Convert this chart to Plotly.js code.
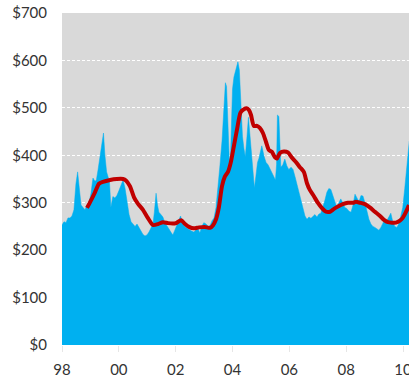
<!DOCTYPE html>
<html>
<head>
<meta charset="utf-8">
<script src="https://cdn.plot.ly/plotly-3.0.1.min.js"></script>
<style>
  html, body { margin: 0; padding: 0; background: #ffffff; }
  #chart { width: 409px; height: 382px; }
</style>
</head>
<body>
<div id="chart"></div>
<script>
// Price series (decimal years) and its values in dollars
const priceDates = [
  1998.00, 1998.07, 1998.14, 1998.21, 1998.28, 1998.35, 1998.42, 1998.49, 1998.55, 1998.60,
  1998.67, 1998.74, 1998.81, 1998.88, 1998.95, 1999.02, 1999.09, 1999.16, 1999.21, 1999.27,
  1999.34, 1999.41, 1999.46, 1999.51, 1999.57, 1999.62, 1999.67, 1999.72, 1999.79, 1999.86,
  1999.93, 2000.00, 2000.08, 2000.15, 2000.22, 2000.29, 2000.36, 2000.43, 2000.50, 2000.57,
  2000.64, 2000.71, 2000.78, 2000.85, 2000.92, 2000.99, 2001.06, 2001.13, 2001.20, 2001.25,
  2001.31, 2001.36, 2001.41, 2001.48, 2001.55, 2001.62, 2001.69, 2001.76, 2001.83, 2001.90,
  2001.97, 2002.04, 2002.12, 2002.17, 2002.22, 2002.29, 2002.36, 2002.43, 2002.50, 2002.57,
  2002.64, 2002.71, 2002.78, 2002.85, 2002.92, 2002.99, 2003.07, 2003.14, 2003.21, 2003.28,
  2003.35, 2003.42, 2003.49, 2003.56, 2003.63, 2003.68, 2003.72, 2003.75, 2003.79, 2003.82,
  2003.86, 2003.89, 2003.93, 2003.96, 2004.00, 2004.05, 2004.12, 2004.19, 2004.24, 2004.28,
  2004.31, 2004.35, 2004.40, 2004.45, 2004.51, 2004.56, 2004.61, 2004.68, 2004.74, 2004.77,
  2004.82, 2004.88, 2004.93, 2004.98, 2005.03, 2005.11, 2005.18, 2005.25, 2005.32, 2005.39,
  2005.46, 2005.51, 2005.55, 2005.58, 2005.63, 2005.67, 2005.70, 2005.77, 2005.84, 2005.91,
  2005.98, 2006.06, 2006.13, 2006.20, 2006.27, 2006.34, 2006.41, 2006.48, 2006.55, 2006.62,
  2006.69, 2006.76, 2006.83, 2006.90, 2006.97, 2007.04, 2007.11, 2007.18, 2007.25, 2007.32,
  2007.39, 2007.46, 2007.53, 2007.60, 2007.67, 2007.74, 2007.81, 2007.88, 2007.95, 2008.02,
  2008.10, 2008.17, 2008.24, 2008.31, 2008.38, 2008.45, 2008.52, 2008.59, 2008.66, 2008.73,
  2008.80, 2008.87, 2008.94, 2009.01, 2009.08, 2009.15, 2009.22, 2009.29, 2009.36, 2009.43,
  2009.50, 2009.57, 2009.64, 2009.71, 2009.78, 2009.85, 2009.92, 2009.99, 2010.06, 2010.12,
  2010.17, 2010.22
];
const priceValues = [
  253, 260, 258, 268, 268, 272, 285, 340, 365, 330,
  295, 290, 285, 295, 300, 320, 352, 345, 348, 370,
  400, 430, 447, 400, 365, 355, 345, 290, 313, 310,
  315, 325, 340, 348, 330, 305, 275, 260, 255, 250,
  255, 248, 240, 233, 230, 232, 238, 245, 255, 280,
  320, 295, 280, 275, 270, 258, 250, 245, 238, 232,
  242, 252, 262, 272, 262, 252, 248, 245, 242, 240,
  238, 242, 246, 236, 250, 258, 255, 250, 252, 262,
  268, 290, 330, 380, 430, 490, 540, 553, 545, 500,
  430, 385, 400, 480, 540, 565, 580, 597, 580, 530,
  470, 440, 415, 397, 440, 480, 445, 400, 350, 331,
  355, 385, 394, 405, 420, 398, 385, 380, 372, 362,
  355, 348, 380, 485, 482, 410, 375, 380, 392, 378,
  370, 375, 370, 355, 338, 318, 300, 285, 272, 265,
  270, 267, 272, 275, 270, 276, 278, 290, 305, 322,
  330, 328, 315, 300, 290, 300, 308, 300, 290, 288,
  282, 280, 295, 318, 310, 302, 315, 314, 300, 282,
  265, 255, 250, 248, 245, 242, 248, 258, 265, 262,
  270, 278, 260, 250, 248, 255, 272, 290, 330, 370,
  405, 430
];

// Moving average of the price
const avgDates = [
  1998.88, 1999.02, 1999.16, 1999.30, 1999.44, 1999.69, 1999.93, 2000.15, 2000.25, 2000.39,
  2000.53, 2000.67, 2000.85, 2001.02, 2001.20, 2001.38, 2001.55, 2001.73, 2001.90, 2002.01,
  2002.19, 2002.33, 2002.47, 2002.64, 2002.82, 2003.02, 2003.21, 2003.31, 2003.42, 2003.52,
  2003.63, 2003.73, 2003.84, 2003.94, 2004.05, 2004.16, 2004.28, 2004.40, 2004.51, 2004.58,
  2004.65, 2004.75, 2004.86, 2004.96, 2005.07, 2005.18, 2005.28, 2005.39, 2005.49, 2005.56,
  2005.67, 2005.81, 2005.95, 2006.09, 2006.23, 2006.37, 2006.51, 2006.62, 2006.72, 2006.86,
  2007.00, 2007.14, 2007.29, 2007.43, 2007.57, 2007.71, 2007.88, 2008.06, 2008.24, 2008.34,
  2008.48, 2008.66, 2008.83, 2009.01, 2009.19, 2009.33, 2009.47, 2009.61, 2009.75, 2009.89,
  2009.99, 2010.10, 2010.21
];
const avgValues = [
  289, 305, 322, 340, 344, 348, 350, 350, 347, 335,
  312, 298, 285, 268, 253, 255, 259, 257, 256, 257,
  263, 255, 249, 246, 248, 249, 247, 252, 265, 290,
  335, 355, 365, 385, 420, 455, 490, 497, 499, 495,
  485, 462, 462, 458, 447, 428, 411, 407, 396, 393,
  405, 408, 406, 395, 386, 375, 365, 341, 327, 314,
  300, 289, 281, 281, 287, 292, 297, 300, 300, 302,
  300, 297, 290, 281, 272, 264, 259, 258, 258, 262,
  268, 280, 295
];

// Axis ticks
const xTickVals = [1998, 2000, 2002, 2004, 2006, 2008, 2010];
const xTickText = ['98', '00', '02', '04', '06', '08', '10'];
const yTickVals = [0, 100, 200, 300, 400, 500, 600, 700];
const yTickText = ['$0', '$100', '$200', '$300', '$400', '$500', '$600', '$700'];

const traces = [
  {
    type: 'scatter',
    mode: 'lines',
    x: priceDates,
    y: priceValues,
    fill: 'tozeroy',
    fillcolor: '#00B0F0',
    line: { color: '#00B0F0', width: 0.5 },
    hoverinfo: 'skip'
  },
  {
    type: 'scatter',
    mode: 'lines',
    x: avgDates,
    y: avgValues,
    line: { color: '#C00000', width: 4, shape: 'spline', smoothing: 0.6 },
    hoverinfo: 'skip'
  }
];

const layout = {
  width: 409,
  height: 382,
  margin: { l: 62, r: 0, t: 13, b: 37 },
  paper_bgcolor: '#ffffff',
  plot_bgcolor: '#D9D9D9',
  showlegend: false,
  font: { family: 'Lato, "Open Sans", sans-serif', size: 14, color: '#333333' },
  xaxis: {
    range: [1998, 2010.21],
    tickvals: xTickVals,
    ticktext: xTickText,
    showgrid: false,
    zeroline: false,
    showline: false,
    ticks: 'outside',
    ticklen: 6,
    tickcolor: '#e6e6e6',
    tickwidth: 1,
    ticklabelstandoff: 5,
    ticklabeloverflow: 'allow',
    tickfont: { size: 15 },
    fixedrange: true
  },
  yaxis: {
    range: [0, 700],
    tickvals: yTickVals,
    ticktext: yTickText,
    showgrid: true,
    gridcolor: '#ffffff',
    gridwidth: 1,
    griddash: '3px,2px',
    zeroline: false,
    showline: false,
    ticks: '',
    ticklabelstandoff: 14,
    tickfont: { size: 15 },
    fixedrange: true
  }
};

Plotly.newPlot('chart', traces, layout, { staticPlot: true, displayModeBar: false });
</script>
</body>
</html>
